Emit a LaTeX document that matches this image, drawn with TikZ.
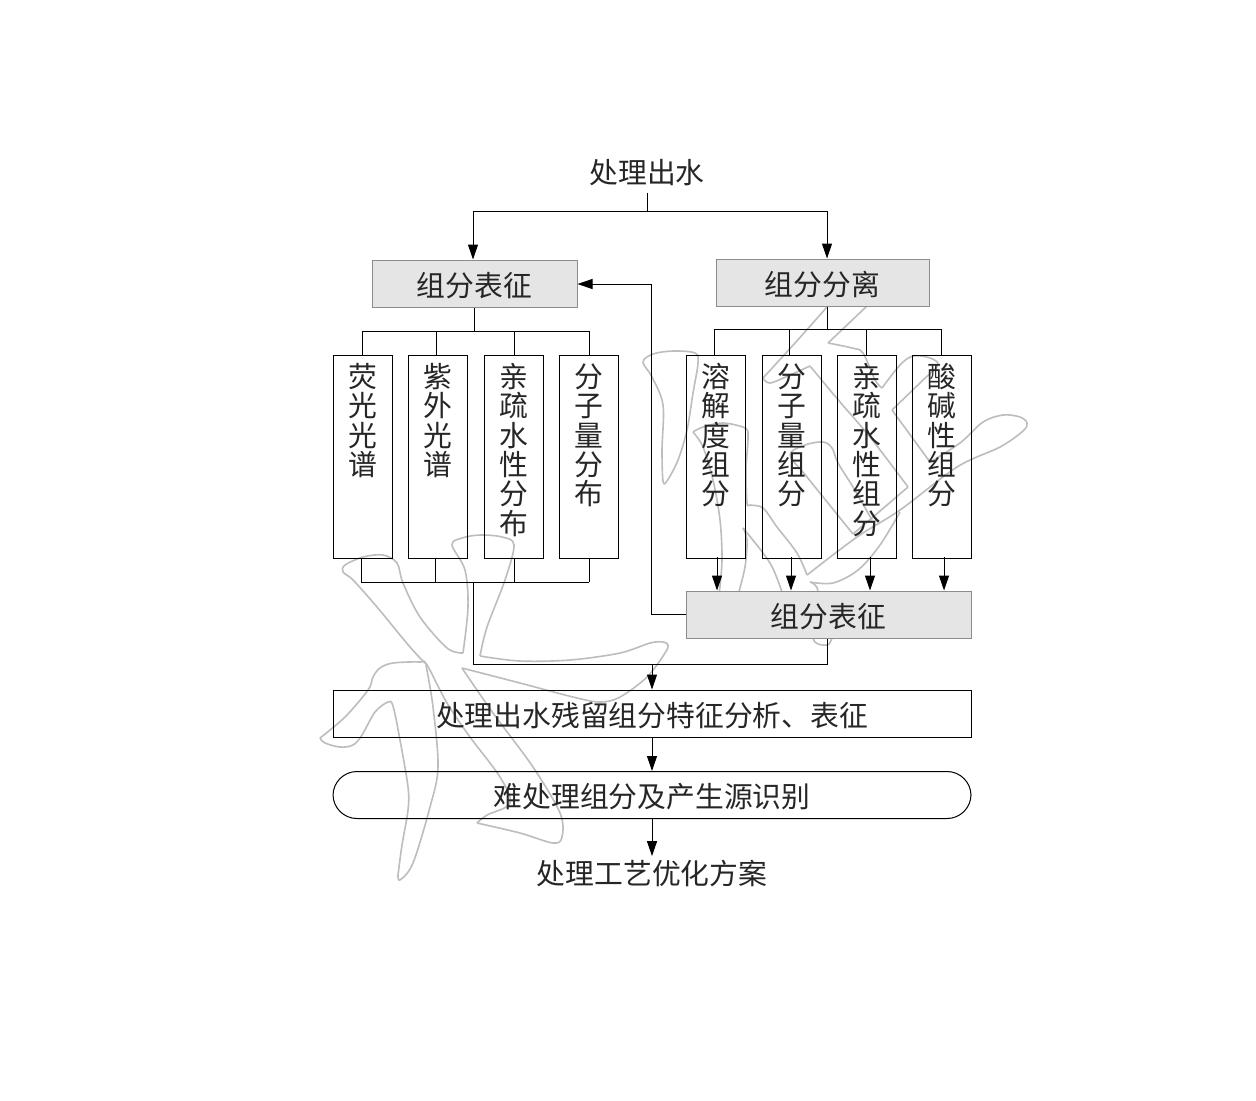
\documentclass[tikz,border=0pt]{standalone}
\usepackage{fontspec}
\usepackage{tikz}
\usetikzlibrary{arrows.meta}
\newfontfamily\cjk{Noto Sans CJK SC}

\begin{document}
\begin{tikzpicture}[x=.5pt, y=-.5pt, line width=.5pt,
    every node/.style={font=\cjk\fontsize{14.4}{14.65}\selectfont, text=black!85},
    arr/.style={-{Triangle[length=7.5pt,width=5pt]}},
    wmark/.style={draw=black!26, line width=.8pt, line join=round, smooth, tension=.55},
    colbox/.style={draw, anchor=north, align=center, inner sep=0pt, text width=29.5pt, text height=16pt, text depth=85.5pt},
    barbox/.style={draw, inner sep=0pt, text height=18pt, text depth=5.5pt, minimum width=319pt},
    graybox/.style={draw=black!45, fill=black!10, inner sep=0pt, text height=18pt, text depth=5.5pt}]
    \useasboundingbox (0,0) rectangle (1256,1100);
    \fill[white] (0,0) rectangle (1256,1100);
    \draw[wmark] plot coordinates {(427,665) (410,647) (377,607) (353,580) (343,572) (345,565) (363,557) (383,555) (397,563) (403,583) (420,617) (447,648) (463,653)};
    \draw[wmark] plot coordinates {(463,653) (468,607) (465,570) (452,545) (462,538) (480,535) (502,537) (514,545) (505,580) (487,627) (480,656)};
    \draw[wmark] plot coordinates {(480,656) (520,661) (570,660) (620,653) (650,643) (663,642) (668,645) (665,653) (647,677) (620,697) (600,702) (573,697) (520,683) (462,668)};
    \draw[wmark] plot coordinates {(462,668) (493,713) (533,767) (560,813) (562,837) (553,843) (520,833) (477,823)};
    \draw[wmark] plot coordinates {(477,823) (487,815) (510,803) (500,777) (470,737) (447,703) (427,665) (420,662) (393,663) (380,668) (373,677) (368,690) (345,717) (320,738)};
    \draw[wmark] plot coordinates {(320,738) (325,743) (340,747) (353,745) (362,735) (375,712) (388,702) (393,706) (400,740) (408,787) (408,810) (402,845) (398,875)};
    \draw[wmark] plot coordinates {(398,875) (400,880) (413,863) (430,807) (438,767) (433,707) (426,665)};
    \draw[wmark] plot[smooth cycle] coordinates {(643,362) (653,354) (673,351) (695,353) (698,363) (693,393) (687,430) (678,460) (667,481) (663,481) (662,450) (663,405) (652,377)};
    \draw[wmark] plot coordinates {(827,307) (795,343) (763,378)};
    \draw[wmark] plot coordinates {(763,378) (770,383) (790,375) (810,366)};
    \draw[wmark] plot coordinates {(810,366) (840,402) (870,437) (908,487)};
    \draw[wmark] plot coordinates {(908,487) (880,511) (853,534)};
    \draw[wmark] plot coordinates {(853,534) (807,477) (790,455) (805,445) (823,442) (832,448) (838,463) (853,487) (872,520)};
    \draw[wmark] plot coordinates {(867,306) (828,343)};
    \draw[wmark] plot coordinates {(828,343) (852,348) (863,353) (875,380) (882,388)};
    \draw[wmark] plot coordinates {(882,388) (900,365) (913,356) (930,358) (938,365) (923,380) (892,410)};
    \draw[wmark] plot coordinates {(892,410) (930,462)};
    \draw[wmark] plot coordinates {(930,462) (960,443) (983,422) (1003,415) (1020,417) (1027,423) (1023,431) (1000,447) (957,467) (900,510) (857,537) (807,575)};
    \draw[wmark] plot coordinates {(807,575) (797,553) (777,527) (763,508) (750,505) (747,503) (746,470) (748,437) (745,428) (723,423) (703,427) (693,432)};
    \draw[wmark] plot coordinates {(693,432) (703,447) (713,480) (720,520) (722,560) (719,595)};
    \draw[wmark] plot coordinates {(900,512) (880,545) (858,570) (833,583) (810,582)};
    \draw[wmark] plot coordinates {(810,582) (818,592) (813,638) (827,645) (832,638)};
    \draw[wmark] plot coordinates {(783,595) (770,563) (743,528)};
    \draw[wmark] plot coordinates {(743,528) (747,540) (745,567) (738,595)};

    \node (src) at (647,173) {处理出水};
    \node[graybox, minimum width=102.5pt, minimum height=23.5pt] (rep) at (474.5,283.5) {组分表征};
    \node[graybox, minimum width=106.5pt, minimum height=23.5pt] (sep) at (822.5,282.5) {组分分离};
    \node[colbox] (flu) at (362.5,355) {荧\\光\\光\\谱};
    \node[colbox] (uvs) at (438,355) {紫\\外\\光\\谱};
    \node[colbox] (hyd) at (513.5,355) {亲\\疏\\水\\性\\分\\布};
    \node[colbox] (mwd) at (588.5,355) {分\\子\\量\\分\\布};
    \node[colbox] (sol) at (716,355) {溶\\解\\度\\组\\分};
    \node[colbox] (mwc) at (791.5,355) {分\\子\\量\\组\\分};
    \node[colbox] (hyc) at (866.5,355) {亲\\疏\\水\\性\\组\\分};
    \node[colbox] (aci) at (941.5,355) {酸\\碱\\性\\组\\分};
    \node[graybox, minimum width=142.5pt, minimum height=23.5pt] (low) at (828.5,614.5) {组分表征};
    \node[barbox] (ana) at (652,713.5) {处理出水残留组分特征分析、表征};
    \node[barbox, rounded corners=12pt] (idn) at (652,795) {难处理组分及产生源识别\hspace{6pt}};
    \node[inner sep=1.5pt] (opt) at (652,873) {处理工艺优化方案};

    \coordinate (srcj) at (647,211);
    \coordinate (repj) at (473,211);
    \coordinate (sepj) at (827,211);
    \draw (src) -- (srcj);
    \draw (repj) -- (sepj);
    \draw[arr] (repj) -- (repj |- rep.north);
    \draw[arr] (sepj) -- (sepj |- sep.north);

    \coordinate (la) at (362,331);
    \coordinate (lb) at (436,331);
    \coordinate (lc) at (514,331);
    \coordinate (ld) at (589,331);
    \draw (rep.south) -- (rep.south |- la);
    \draw (la) -- (ld);
    \draw (la) -- (la |- flu.north);
    \draw (lb) -- (lb |- uvs.north);
    \draw (lc) -- (lc |- hyd.north);
    \draw (ld) -- (ld |- mwd.north);

    \coordinate (ra) at (714,329);
    \coordinate (rb) at (789,329);
    \coordinate (rc) at (866,329);
    \coordinate (rd) at (941,329);
    \coordinate (rs) at (827,329);
    \draw (rs |- sep.south) -- (rs);
    \draw (ra) -- (rd);
    \draw (ra) -- (ra |- sol.north);
    \draw (rb) -- (rb |- mwc.north);
    \draw (rc) -- (rc |- hyc.north);
    \draw (rd) -- (rd |- aci.north);

    \coordinate (ba) at (361,582);
    \coordinate (bb) at (435.5,582);
    \coordinate (bc) at (514,582);
    \coordinate (bd) at (589,582);
    \coordinate (bm) at (473.5,582);
    \coordinate (mj) at (473.5,664);
    \coordinate (mk) at (827.5,664);
    \coordinate (mm) at (652,664);
    \draw (ba) -- (bd);
    \draw (ba |- flu.south) -- (ba);
    \draw (bb |- uvs.south) -- (bb);
    \draw (bc |- hyd.south) -- (bc);
    \draw (bd |- mwd.south) -- (bd);
    \draw (bm) -- (mj) -- (mk) -- (mk |- low.south);
    \draw[arr] (mm) -- (mm |- ana.north);

    \coordinate (sa) at (717,557);
    \coordinate (sb) at (791,557);
    \coordinate (sc) at (870,557);
    \coordinate (sd) at (944,557);
    \draw[arr] (sa) -- (sa |- low.north);
    \draw[arr] (sb) -- (sb |- low.north);
    \draw[arr] (sc) -- (sc |- low.north);
    \draw[arr] (sd) -- (sd |- low.north);

    \coordinate (fb) at (651,284);
    \draw[arr] (low.west) -| (fb) -- (rep.east |- fb);

    \draw[arr] (ana.south) -- (idn.north);
    \draw[arr] (idn.south) -- (opt.north);
\end{tikzpicture}
\end{document}
